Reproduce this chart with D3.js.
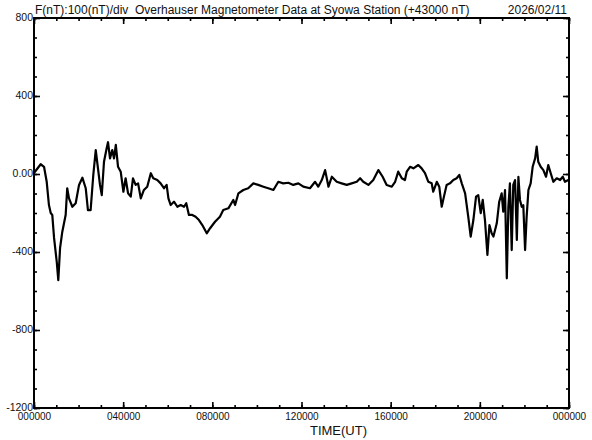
<!DOCTYPE html>
<html>
<head>
<meta charset="utf-8">
<script src="https://cdn.jsdelivr.net/npm/d3@7"></script>
<style>
body { margin: 0; background: #fff; }
svg { display: block; font-family: "Liberation Sans", Arial, sans-serif; }
</style>
</head>
<body>
<svg width="592" height="440"></svg>
<script>
// time of day in hours (UT)
var hours = [0,0.30,0.45,0.57,0.67,0.75,0.82,0.90,1.02,1.09,
  1.17,1.27,1.42,1.49,1.57,1.72,1.87,2.02,2.17,2.32,
  2.42,2.54,2.66,2.77,2.87,2.96,3.04,3.14,3.26,3.32,
  3.41,3.51,3.59,3.67,3.77,3.89,4.01,4.11,4.22,4.34,
  4.44,4.56,4.67,4.79,4.93,5.08,5.24,5.35,5.53,5.68,
  5.83,5.95,6.03,6.13,6.28,6.43,6.58,6.73,6.83,6.95,
  7.10,7.25,7.40,7.55,7.75,7.90,8.12,8.34,8.49,8.72,
  8.94,9.02,9.17,9.39,9.61,9.84,10.06,10.29,10.51,10.74,
  10.96,11.18,11.41,11.63,11.86,12.08,12.38,12.61,12.75,12.91,
  13.06,13.21,13.36,13.58,13.80,14.03,14.25,14.48,14.63,14.77,
  15.00,15.22,15.45,15.64,15.82,16.05,16.20,16.34,16.50,16.64,
  16.72,16.87,17.02,17.24,17.39,17.54,17.69,17.84,17.91,18.07,
  18.18,18.29,18.39,18.51,18.66,18.81,18.96,19.08,19.19,19.34,
  19.48,19.59,19.71,19.83,19.93,20.04,20.13,20.23,20.34,20.43,
  20.53,20.61,20.76,20.87,20.98,21.05,21.13,21.21,21.28,21.35,
  21.43,21.50,21.58,21.66,21.73,21.80,21.88,21.95,22.03,22.10,
  22.18,22.28,22.37,22.48,22.55,22.62,22.73,22.85,22.97,23.07,
  23.18,23.30,23.45,23.60,23.72,23.82,23.97];

// total force minus 43000 nT
var values = [5,50,37,-40,-159,-200,-210,-328,-450,-544,
  -379,-296,-210,-73,-125,-168,-150,-56,-19,-73,
  -185,-185,-5,123,29,-56,-108,63,132,163,
  80,123,80,149,37,12,-91,-22,-99,-116,
  -22,-56,-48,-125,-82,-65,4,-22,-31,-48,
  -73,-56,-125,-159,-142,-168,-159,-168,-150,-210,
  -210,-219,-236,-262,-304,-278,-245,-219,-185,-176,
  -133,-159,-99,-82,-73,-48,-56,-65,-73,-82,
  -40,-48,-45,-56,-48,-65,-73,-40,-65,-31,
  20,-65,-14,-40,-48,-56,-48,-40,-22,-40,
  -56,-31,20,-14,-56,-65,-40,12,-22,-31,
  12,37,29,46,29,4,-40,-48,-91,-40,
  -65,-168,-116,-56,-48,-31,-22,-5,-48,-99,
  -219,-321,-236,-116,-108,-201,-133,-236,-415,-262,
  -304,-321,-253,-142,-99,-193,-82,-535,-168,-48,
  -390,-56,-31,-338,-14,-133,-168,-160,-390,-219,
  -82,-48,37,80,140,63,37,20,-14,46,
  4,-40,-22,-31,-14,-40,-31];

var yMajor = [800, 400, 0, -400, -800, -1200];
var yMajorLabels = ["800", "400", "0.00", "-400", "-800", "-1200"];
var xMajor = [0, 4, 8, 12, 16, 20, 24];
var xMajorLabels = ["000000", "040000", "080000", "120000", "160000", "200000", "000000"];

var title = "F(nT):100(nT)/div  Overhauser Magnetometer Data at Syowa Station (+43000 nT)";
var dateText = "2026/02/11";
var xTitle = "TIME(UT)";

var svg = d3.select("svg");
var margin = {top: 18, right: 23, bottom: 32, left: 34};
var width = +svg.attr("width") - margin.left - margin.right;
var height = +svg.attr("height") - margin.top - margin.bottom;
var g = svg.append("g").attr("transform", "translate(" + margin.left + "," + margin.top + ")");

var x = d3.scaleLinear().domain([0, 24]).range([0, width]);
var y = d3.scaleLinear().domain([-1200, 800]).range([height, 0]);

var minorX = d3.range(0, 25, 1);
var minorY = d3.range(-1200, 801, 100);

function strip(sel) {
  sel.select(".domain").remove();
  sel.selectAll("line").attr("stroke", "#000").attr("stroke-width", 1.6);
}

// minor ticks, all four sides, pointing inward
g.append("g").attr("transform", "translate(0," + height + ")")
  .call(d3.axisBottom(x).tickValues(minorX).tickSize(-3).tickFormat(""))
  .call(strip);
g.append("g")
  .call(d3.axisTop(x).tickValues(minorX).tickSize(-3).tickFormat(""))
  .call(strip);
g.append("g")
  .call(d3.axisLeft(y).tickValues(minorY).tickSize(-3).tickFormat(""))
  .call(strip);
g.append("g").attr("transform", "translate(" + width + ",0)")
  .call(d3.axisRight(y).tickValues(minorY).tickSize(-3).tickFormat(""))
  .call(strip);

// major ticks with labels
var xAxis = g.append("g").attr("transform", "translate(0," + height + ")")
  .call(d3.axisBottom(x).tickValues(xMajor).tickSize(-6)
    .tickFormat(function(d, i) { return xMajorLabels[i]; }))
  .call(strip);
xAxis.selectAll("text")
  .attr("font-family", "'Liberation Sans', Arial, sans-serif")
  .attr("font-size", "10px").attr("fill", "#111")
  .attr("y", 5).attr("dy", "0.71em");

g.append("g")
  .call(d3.axisTop(x).tickValues(xMajor).tickSize(-6).tickFormat(""))
  .call(strip);

var yAxis = g.append("g")
  .call(d3.axisLeft(y).tickValues(yMajor).tickSize(-6)
    .tickFormat(function(d, i) { return yMajorLabels[i]; }))
  .call(strip);
yAxis.selectAll("text")
  .attr("font-family", "'Liberation Sans', Arial, sans-serif")
  .attr("font-size", "10.5px").attr("fill", "#111")
  .attr("x", -1).attr("dy", "0.2em");

g.append("g").attr("transform", "translate(" + width + ",0)")
  .call(d3.axisRight(y).tickValues(yMajor).tickSize(-6).tickFormat(""))
  .call(strip);

// frame
g.append("rect")
  .attr("x", x(0)).attr("y", y(800))
  .attr("width", x(24) - x(0)).attr("height", y(-1200) - y(800))
  .attr("fill", "none").attr("stroke", "#000").attr("stroke-width", 2);

// data line
var pts = hours.map(function(h, i) { return [h, values[i]]; });
var line = d3.line()
  .x(function(d) { return x(d[0]); })
  .y(function(d) { return y(d[1]); });

g.append("path")
  .datum(pts)
  .attr("d", line)
  .attr("fill", "none")
  .attr("stroke", "#000")
  .attr("stroke-width", 2.2)
  .attr("stroke-linejoin", "round");

// texts
svg.append("text")
  .attr("x", margin.left + 1).attr("y", margin.top - 4)
  .attr("font-size", "12px").attr("fill", "#111")
  .style("white-space", "pre")
  .text(title);

svg.append("text")
  .attr("x", margin.left + width - 2).attr("y", margin.top - 4)
  .attr("text-anchor", "end")
  .attr("font-size", "12px").attr("fill", "#111")
  .text(dateText);

svg.append("text")
  .attr("x", margin.left + width / 2 + 37).attr("y", 435)
  .attr("text-anchor", "middle")
  .attr("font-size", "13px").attr("fill", "#111")
  .text(xTitle);
</script>
</body>
</html>
